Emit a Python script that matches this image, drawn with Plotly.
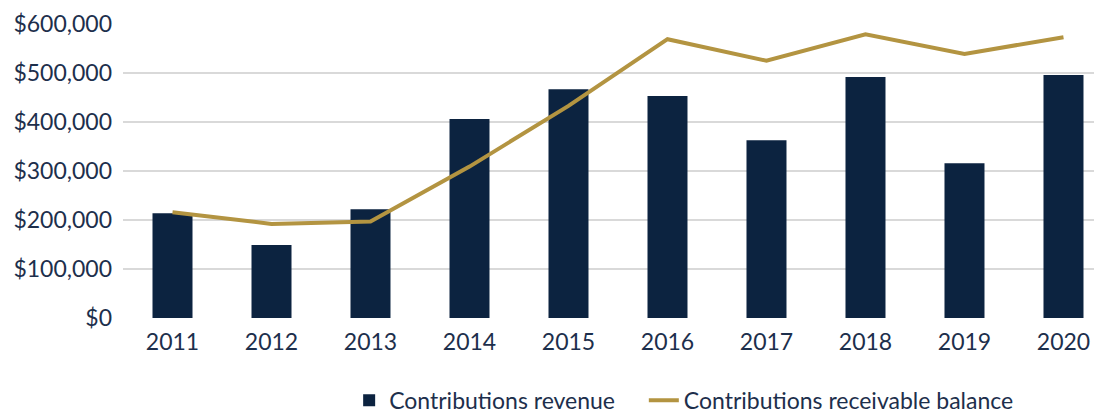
import plotly.graph_objects as go

years = ["2011", "2012", "2013", "2014", "2015", "2016", "2017", "2018", "2019", "2020"]
contributions_revenue = [214000, 149000, 222000, 406000, 467000, 453000, 363000, 492000, 316000, 496000]
receivable_balance = [216000, 192000, 197000, 309000, 433000, 569000, 525000, 579000, 539000, 573000]
y_ticks = [0, 100000, 200000, 300000, 400000, 500000, 600000]
y_tick_labels = ["$0", "$100,000", "$200,000", "$300,000", "$400,000", "$500,000", "$600,000"]

navy = "#0c2340"
gold = "#b39441"
text_color = "#1d2f4c"
font_family = "Lato, Roboto, Liberation Sans, Arial, sans-serif"

fig = go.Figure()
fig.add_trace(go.Bar(
    x=years, y=contributions_revenue, name="Contributions revenue",
    marker=dict(color=navy, line=dict(width=0)), width=0.404,
    legend="legend",
))
fig.add_trace(go.Scatter(
    x=years, y=receivable_balance, name="Contributions receivable balance",
    mode="lines", line=dict(color=gold, width=4),
    legend="legend2",
))

legend_common = dict(orientation="h", yanchor="top", y=-0.207, xanchor="left",
                     font=dict(size=23, color=text_color), itemwidth=30,
                     bgcolor="rgba(0,0,0,0)")

fig.update_layout(
    width=1094, height=413,
    margin=dict(l=115, r=0, t=16, b=103, autoexpand=False),
    paper_bgcolor="white", plot_bgcolor="white",
    font=dict(family=font_family, size=23, color=text_color),
    showlegend=True,
    legend=dict(x=0.231, **legend_common),
    legend2=dict(x=0.532, **legend_common),
)
fig.update_xaxes(
    type="category", range=[-0.5, 9.389], showgrid=False, zeroline=False,
    showline=False, ticks="", tickfont=dict(size=23, color=text_color),
    automargin=False, ticklabelstandoff=8,
)
fig.update_yaxes(
    range=[0, 600000], tickvals=y_ticks, ticktext=y_tick_labels,
    showgrid=True, gridcolor="#d9d9d9", gridwidth=1.5, zeroline=False,
    showline=False, ticks="", ticklabelstandoff=10, automargin=False,
    tickfont=dict(size=23, color=text_color),
)

fig.write_html("out.html")
